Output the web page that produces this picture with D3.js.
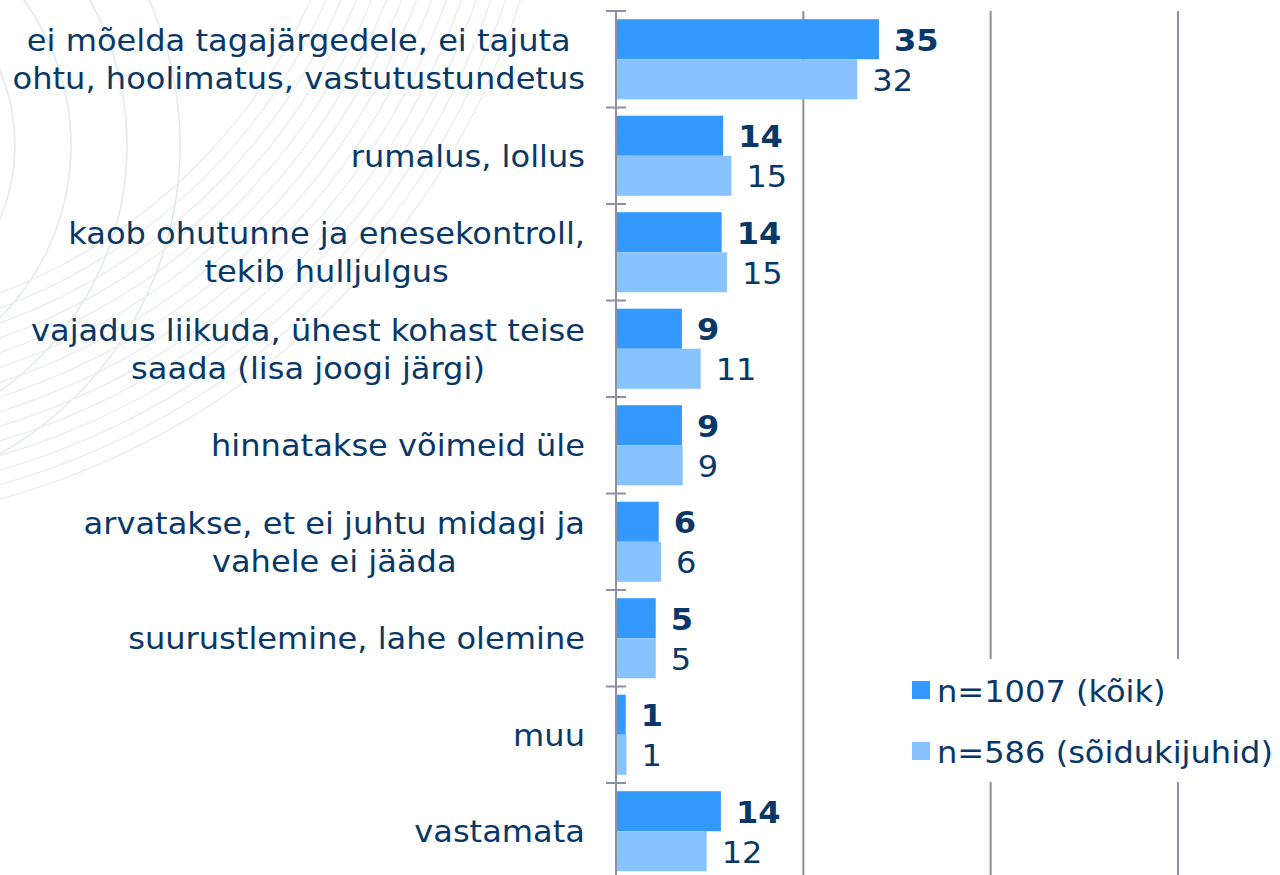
<!DOCTYPE html>
<html>
<head>
<meta charset="utf-8">
<script src="https://cdn.jsdelivr.net/npm/d3@7/dist/d3.min.js"></script>
<style>
  html, body { margin: 0; padding: 0; background: #ffffff; }
  svg { display: block; }
</style>
</head>
<body>
<svg id="chart" width="1280" height="875"></svg>
<script>
// ---- data ----
const categories = [
  "ei mõelda tagajärgedele, ei tajuta \nohtu, hoolimatus, vastutustundetus",
  "rumalus, lollus",
  "kaob ohutunne ja enesekontroll,\ntekib hulljulgus",
  "vajadus liikuda, ühest kohast teise\nsaada (lisa joogi järgi)",
  "hinnatakse võimeid üle",
  "arvatakse, et ei juhtu midagi ja\nvahele ei jääda",
  "suurustlemine, lahe olemine",
  "muu",
  "vastamata"
];
const seriesNames = ["n=1007 (kõik)", "n=586 (sõidukijuhid)"];
const valuesAll     = [35.1, 14.3, 14.1, 8.8, 8.8, 5.7, 5.3, 1.3, 14.0];
const valuesDrivers = [32.2, 15.4, 14.8, 11.3, 8.9, 6.0, 5.3, 1.4, 12.1];
const xTicks = [25, 50, 75];

// ---- styles ----
const colors = ["#3399ff", "#88c2ff"];
const textColor = "#083868";
const gridColor = "#8d8fa0";
const fontFamily = "'DejaVu Sans', Verdana, sans-serif";
const stretch = 1.07;

const svg = d3.select("#chart");

// ---- decorative background arcs ----
const bg = svg.append("g").attr("fill", "none");
const arcA = { cx: -175, cy: 145, radii: [190, 246, 302, 355] };
bg.selectAll("circle.a").data(arcA.radii).join("circle")
  .attr("cx", arcA.cx).attr("cy", arcA.cy).attr("r", d => d)
  .attr("stroke", "#e4e9ef").attr("stroke-width", 1.6);
const arcB = { cx: -200, cy: -230, radii: d3.range(560, 760, 14) };
svg.append("clipPath").attr("id", "bgclip")
  .append("rect").attr("x", 0).attr("y", 0).attr("width", 560).attr("height", 875);
bg.append("g").attr("clip-path", "url(#bgclip)")
  .selectAll("circle").data(arcB.radii).join("circle")
  .attr("cx", arcB.cx).attr("cy", arcB.cy).attr("r", d => d)
  .attr("stroke", "#e8ecf1").attr("stroke-width", 1.3);

// ---- scales ----
const x = d3.scaleLinear().domain([0, 100]).range([616, 1365.3]);
const y = d3.scaleBand().domain(categories).range([11, 879.5])
  .paddingInner(0.17).paddingOuter(0.085);
const ySub = d3.scaleBand().domain([0, 1]).range([0, y.bandwidth()]);

// ---- gridlines ----
svg.append("g").selectAll("line").data(xTicks).join("line")
  .attr("x1", d => x(d)).attr("x2", d => x(d))
  .attr("y1", 11).attr("y2", 879.5)
  .attr("stroke", gridColor).attr("stroke-width", 2);

// ---- bars ----
const rows = categories.map((c, i) => ({ c, v: [valuesAll[i], valuesDrivers[i]] }));
const grp = svg.append("g").selectAll("g").data(rows).join("g")
  .attr("transform", d => `translate(0,${y(d.c)})`);
grp.selectAll("rect").data(d => d.v.map((v, s) => ({ v, s }))).join("rect")
  .attr("x", x(0))
  .attr("y", d => ySub(d.s))
  .attr("width", d => x(d.v) - x(0))
  .attr("height", ySub.bandwidth())
  .attr("fill", d => colors[d.s]);

// value labels
grp.selectAll("g.lbl").data(d => d.v.map((v, s) => ({ v, s }))).join("g")
  .attr("class", "lbl")
  .attr("transform", d => `translate(${x(d.v) + 15},${ySub(d.s) + ySub.bandwidth() / 2 + 11.5}) scale(${stretch},1)`)
  .append("text")
  .attr("font-family", fontFamily)
  .attr("font-size", 30)
  .attr("font-weight", d => d.s === 0 ? "bold" : "normal")
  .attr("fill", textColor)
  .text(d => d3.format(".0f")(d.v));

// ---- category axis ----
const axisX = x(0);
const step = y.step();
const boundaries = categories.map(c => y(c) - step * y.paddingInner() / 2)
  .concat([y(categories[categories.length - 1]) + y.bandwidth() + step * y.paddingInner() / 2]);
svg.append("line")
  .attr("x1", axisX).attr("x2", axisX).attr("y1", 11).attr("y2", 879.5)
  .attr("stroke", gridColor).attr("stroke-width", 2);
svg.append("g").selectAll("line").data(boundaries).join("line")
  .attr("x1", axisX - 10).attr("x2", axisX + 10)
  .attr("y1", d => d).attr("y2", d => d)
  .attr("stroke", gridColor).attr("stroke-width", 2);

// category labels (block right-aligned, lines centred within the block)
const lineH = 38;
const catG = svg.append("g").selectAll("g").data(categories).join("g")
  .attr("transform", c => `translate(585,${y(c) + y.bandwidth() / 2 + 11}) scale(${stretch},1)`);
catG.each(function (c) {
  const lines = c.split("\n").map(s => s.trim());
  const t = d3.select(this).append("text")
    .attr("font-family", fontFamily).attr("font-size", 30)
    .attr("fill", textColor).attr("text-anchor", "middle");
  const spans = lines.map((ln, i) => t.append("tspan")
    .attr("y", (i - (lines.length - 1) / 2) * lineH)
    .text(ln));
  const maxW = d3.max(spans, s => s.node().getComputedTextLength());
  spans.forEach(s => s.attr("x", -maxW / 2));
});

// ---- legend ----
const lg = svg.append("g");
lg.append("rect").attr("x", 900).attr("y", 659).attr("width", 380).attr("height", 123).attr("fill", "#ffffff");
const li = lg.selectAll("g").data(seriesNames).join("g")
  .attr("transform", (d, i) => `translate(912,${681 + i * 61})`);
li.append("rect").attr("width", 18).attr("height", 18).attr("fill", (d, i) => colors[i]);
li.append("g").attr("transform", `translate(25,21) scale(${stretch},1)`)
  .append("text")
  .attr("font-family", fontFamily).attr("font-size", 30).attr("fill", textColor)
  .text(d => d);
</script>
</body>
</html>
